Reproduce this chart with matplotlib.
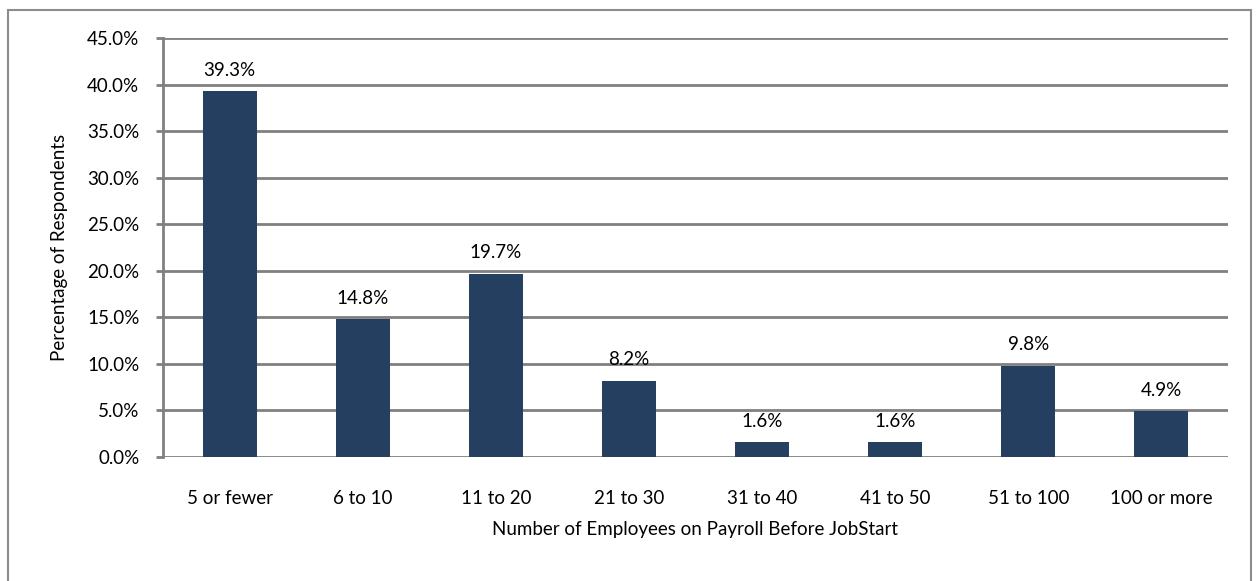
import matplotlib
matplotlib.use("Agg")
import matplotlib.pyplot as plt
from matplotlib.patches import Rectangle
from matplotlib.ticker import FuncFormatter, MultipleLocator

categories = ["5 or fewer", "6 to 10", "11 to 20", "21 to 30",
              "31 to 40", "41 to 50", "51 to 100", "100 or more"]
values = [39.3, 14.8, 19.7, 8.2, 1.6, 1.6, 9.8, 4.9]

plt.rcParams["font.family"] = ["Lato", "DejaVu Sans"]

W, H = 1257, 581
fig = plt.figure(figsize=(W / 100, H / 100), dpi=100)
fig.patch.set_facecolor("white")

# outer frame of the chart
fig.add_artist(Rectangle((8 / W, -0.05), (1251 - 8) / W, (H - 10) / H + 0.05,
                         transform=fig.transFigure, fill=False,
                         edgecolor="#8c8c8c", linewidth=1.5))

ax = fig.add_axes([163 / W, (H - 457) / H, (1228 - 163) / W, (457 - 38) / H])

grid_c = "#808080"
fs = 13.5
x = range(len(categories))
bars = ax.bar(x, values, width=0.405, color="#243f60", zorder=3)

ax.set_xlim(-0.5, len(categories) - 0.5)
ax.set_ylim(0, 45)
ax.yaxis.set_major_locator(MultipleLocator(5))
ax.yaxis.set_major_formatter(FuncFormatter(lambda v, p: f"{v:.1f}%"))
ax.grid(axis="y", color=grid_c, linewidth=2.0, zorder=0)
ax.set_axisbelow(True)

for s in ["top", "right", "bottom"]:
    ax.spines[s].set_visible(False)
ax.spines["left"].set_color(grid_c)
ax.spines["left"].set_linewidth(2.0)

ax.set_xticks(list(x))
ax.set_xticklabels(categories)
ax.tick_params(axis="x", length=0, pad=24, labelsize=fs, labelcolor="black")
ax.tick_params(axis="y", length=5, width=2.0, color=grid_c, pad=12,
               labelsize=fs, labelcolor="black")

for xi, v in zip(x, values):
    ax.annotate(f"{v:.1f}%", (xi, v), xytext=(0, 9), textcoords="offset points",
                ha="center", va="bottom", fontsize=fs)

ax.set_xlabel("Number of Employees on Payroll Before JobStart", fontsize=fs,
              labelpad=10)
ax.set_ylabel("Percentage of Respondents", fontsize=fs, labelpad=14)

fig.savefig("out.png", dpi=100)
